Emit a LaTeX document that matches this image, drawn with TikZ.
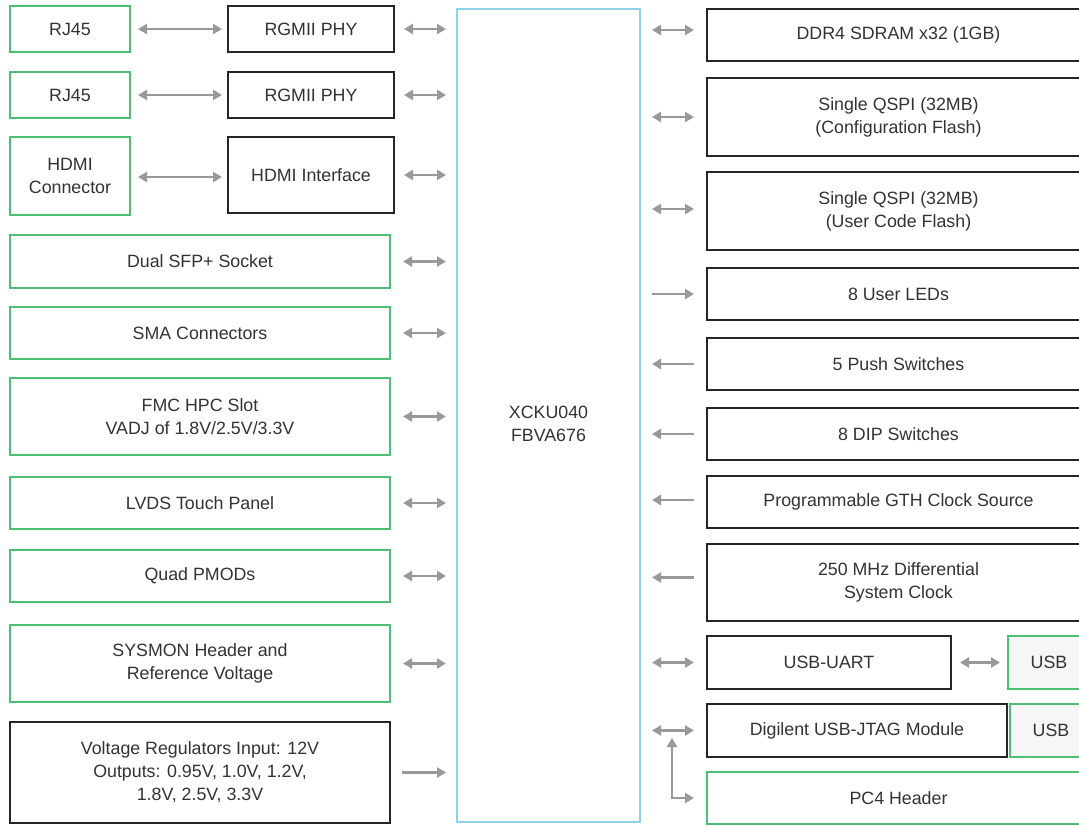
\documentclass[tikz,border=0pt]{standalone}
\usepackage{fontspec}
\setmainfont{Liberation Sans}
\usetikzlibrary{arrows.meta}
\definecolor{grn}{HTML}{4DBF74}
\definecolor{blu}{HTML}{8FD3E8}
\definecolor{blk}{HTML}{262626}
\definecolor{arrgray}{HTML}{999999}
\definecolor{txtc}{HTML}{333333}
\definecolor{usbfill}{HTML}{F6F6F6}
\tikzset{
  base/.style={rectangle, anchor=north west, inner sep=0pt, outer sep=0pt, align=center,
    text=txtc, font=\fontsize{17.8}{23}\selectfont, fill=white},
  gbox/.style={base, draw=grn, line width=2.8pt},
  kbox/.style={base, draw=blk, line width=2.8pt},
  bbox/.style={base, draw=blu, line width=2.4pt},
  tip/.tip={Triangle[length=9pt,width=10pt]},
  arr/.style={draw=arrgray, line width=2.5pt, -tip},
  barr/.style={draw=arrgray, line width=2.5pt, tip-tip},
  rarr/.style={draw=arrgray, line width=2.5pt, tip-},
}
\begin{document}
\begin{tikzpicture}[x=1pt,y=-1pt]
\useasboundingbox (0,0) rectangle (1079,825);
\clip (0,0) rectangle (1079,825);
% left column
\node[gbox, minimum width=120pt, minimum height=46pt] (rj1) at (10,6) {RJ45};
\node[gbox, minimum width=120pt, minimum height=46pt] (rj2) at (10,72) {RJ45};
\node[gbox, minimum width=120pt, minimum height=78pt] (hdmic) at (10,137) {HDMI\\Connector};
\node[kbox, minimum width=166pt, minimum height=46pt] (phy1) at (228,6) {RGMII PHY};
\node[kbox, minimum width=166pt, minimum height=46pt] (phy2) at (228,72) {RGMII PHY};
\node[kbox, minimum width=166pt, minimum height=76pt] (hdmii) at (228,137) {HDMI Interface};
\node[gbox, minimum width=380pt, minimum height=53pt] (sfp) at (10,235) {Dual SFP+ Socket};
\node[gbox, minimum width=380pt, minimum height=52pt] (sma) at (10,307) {SMA Connectors};
\node[gbox, minimum width=380pt, minimum height=77pt] (fmc) at (10,378) {FMC HPC Slot\\VADJ of 1.8V/2.5V/3.3V};
\node[gbox, minimum width=380pt, minimum height=52pt] (lvds) at (10,477) {LVDS Touch Panel};
\node[gbox, minimum width=380pt, minimum height=52pt] (pmod) at (10,550) {Quad PMODs};
\node[gbox, minimum width=380pt, minimum height=77pt] (sysmon) at (10,625) {SYSMON Header and\\Reference Voltage};
\node[kbox, minimum width=380pt, minimum height=101pt] (volt) at (10,722) {Voltage Regulators Input: 12V\\Outputs: 0.95V, 1.0V, 1.2V,\\1.8V, 2.5V, 3.3V};
% FPGA
\node[bbox, minimum width=183pt, minimum height=813pt] (fpga) at (457,9) {};
\node[base, fill=none, anchor=center] (fpgalbl) at (548.5,424) {XCKU040\\FBVA676};
% right column
\node[kbox, minimum width=383pt, minimum height=52pt] (ddr) at (707,9) {DDR4 SDRAM x32 (1GB)};
\node[kbox, minimum width=383pt, minimum height=78pt] (qspi1) at (707,78) {Single QSPI (32MB)\\(Configuration Flash)};
\node[kbox, minimum width=383pt, minimum height=78pt] (qspi2) at (707,172) {Single QSPI (32MB)\\(User Code Flash)};
\node[kbox, minimum width=383pt, minimum height=52pt] (leds) at (707,268) {8 User LEDs};
\node[kbox, minimum width=383pt, minimum height=52pt] (push) at (707,338) {5 Push Switches};
\node[kbox, minimum width=383pt, minimum height=52pt] (dip) at (707,408) {8 DIP Switches};
\node[kbox, minimum width=383pt, minimum height=52pt] (gth) at (707,476) {Programmable GTH Clock Source};
\node[kbox, minimum width=383pt, minimum height=77pt] (clk) at (707,544) {250 MHz Differential\\System Clock};
\node[kbox, minimum width=244pt, minimum height=53pt] (uart) at (707,636) {USB-UART};
\node[gbox, fill=usbfill, minimum width=82pt, minimum height=53pt] (usb1) at (1008,636) {USB};
\node[gbox, fill=usbfill, minimum width=82pt, minimum height=53pt] (usb2) at (1010,704) {USB};
\node[kbox, minimum width=300pt, minimum height=53pt] (jtag) at (707,704) {Digilent USB-JTAG Module};
\node[gbox, minimum width=383pt, minimum height=52pt] (pc4) at (707,772) {PC4 Header};
% left arrows
\draw[barr, shorten <=8pt, shorten >=6pt] (rj1.east) -- (phy1.west);
\draw[barr, shorten <=8pt, shorten >=6pt] (rj2.east) -- (phy2.west);
\draw[barr, shorten <=8pt, shorten >=6pt] ([yshift=-1pt]hdmic.east) -- ([yshift=-1pt]hdmic.east -| hdmii.west);
\draw[barr, shorten <=10pt, shorten >=11pt] (phy1.east) -- (phy1.east -| fpga.west);
\draw[barr, shorten <=10pt, shorten >=11pt] (phy2.east) -- (phy2.east -| fpga.west);
\draw[barr, shorten <=10pt, shorten >=11pt] (hdmii.east) -- (hdmii.east -| fpga.west);
\foreach \n in {sfp,sma,fmc,lvds,pmod,sysmon}
  \draw[barr, shorten <=13pt, shorten >=11pt] (\n.east) -- (\n.east -| fpga.west);
\draw[arr, shorten <=12pt, shorten >=11pt] (volt.east) -- (volt.east -| fpga.west);
% right arrows
\draw[barr, shorten <=12pt, shorten >=13pt] ([yshift=5pt]ddr.west -| fpga.east) -- ([yshift=5pt]ddr.west);
\draw[barr, shorten <=12pt, shorten >=13pt] (qspi1.west -| fpga.east) -- (qspi1.west);
\draw[barr, shorten <=12pt, shorten >=13pt] ([yshift=2pt]qspi2.west -| fpga.east) -- ([yshift=2pt]qspi2.west);
\draw[arr, shorten <=12pt, shorten >=13pt] (leds.west -| fpga.east) -- (leds.west);
\draw[rarr, shorten <=12pt, shorten >=13pt] (push.west -| fpga.east) -- (push.west);
\draw[rarr, shorten <=12pt, shorten >=13pt] (dip.west -| fpga.east) -- (dip.west);
\draw[rarr, shorten <=12pt, shorten >=13pt] ([yshift=2pt]gth.west -| fpga.east) -- ([yshift=2pt]gth.west);
\draw[rarr, shorten <=12pt, shorten >=13pt] ([yshift=5pt]clk.west -| fpga.east) -- ([yshift=5pt]clk.west);
\draw[barr, shorten <=12pt, shorten >=13pt] (uart.west -| fpga.east) -- (uart.west);
\draw[barr, shorten <=9pt, shorten >=8pt] (uart.east) -- (uart.east -| usb1.west);
\draw[barr, shorten <=12pt, shorten >=13pt] (jtag.west -| fpga.east) -- (jtag.west);
\coordinate (pcj) at (672,738);
\draw[barr, shorten >=13pt] (pcj) |- (pc4.west);
\end{tikzpicture}
\end{document}
